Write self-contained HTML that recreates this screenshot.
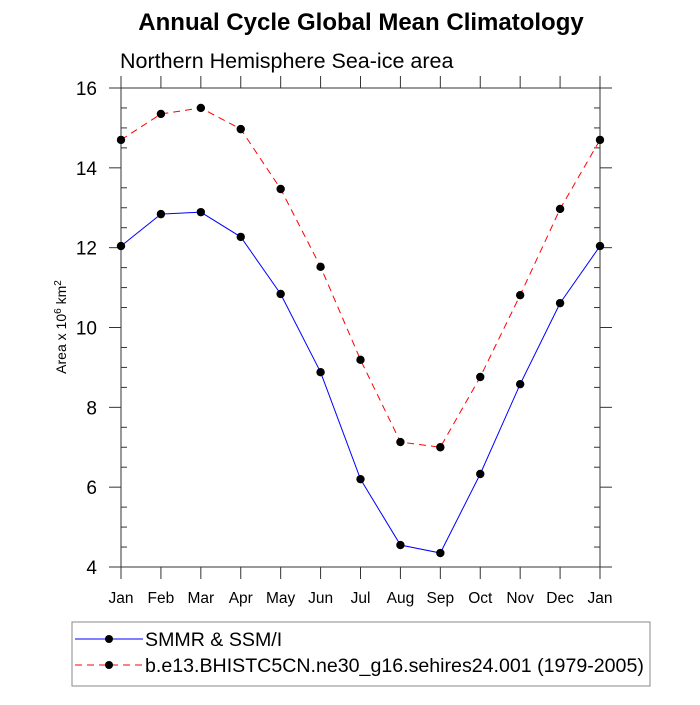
<!DOCTYPE html>
<html><head><meta charset="utf-8"><style>
body{margin:0;background:#fff;}
svg text{font-family:"Liberation Sans",sans-serif;}
</style></head><body>
<svg id="c" width="700" height="700" viewBox="0 0 700 700">
<text x="361" y="30" text-anchor="middle" font-size="24" font-weight="bold">Annual Cycle Global Mean Climatology</text>
<text x="120" y="68" font-size="21.5">Northern Hemisphere Sea-ice area</text>
<text transform="translate(66,327) rotate(-90)" text-anchor="middle" font-size="14">Area x 10<tspan dy="-5" font-size="10">6</tspan><tspan dy="5"> km</tspan><tspan dy="-5" font-size="10">2</tspan></text>
<g id="axes"></g>
<g id="marks"></g>
<rect x="72" y="622" width="578" height="64" fill="none" stroke="#888" stroke-width="1"/>
<line x1="75" y1="639" x2="143" y2="639" stroke="#0000ff" stroke-width="1"/>
<circle cx="109" cy="639" r="4" fill="#000"/>
<text x="145" y="646" font-size="19.6">SMMR &amp; SSM/I</text>
<line x1="75" y1="665" x2="143" y2="665" stroke="#ff0000" stroke-width="1" stroke-dasharray="7,5"/>
<circle cx="109" cy="665" r="4" fill="#000"/>
<text x="145" y="672" font-size="19.6">b.e13.BHISTC5CN.ne30_g16.sehires24.001 (1979-2005)</text>
</svg>
<script>
const months=["Jan","Feb","Mar","Apr","May","Jun","Jul","Aug","Sep","Oct","Nov","Dec","Jan"];
const obsValues=[12.04,12.84,12.89,12.27,10.84,8.88,6.2,4.55,4.35,6.33,8.58,10.61,12.04];
const modelValues=[14.70,15.35,15.5,14.97,13.47,11.52,9.19,7.13,7.0,8.76,10.81,12.97,14.7];
const yTicks=[4,6,8,10,12,14,16];
const L=121,R=600,T=88,B=567,ymin=4,ymax=16;
const NS="http://www.w3.org/2000/svg";
function xs(i){return L+(R-L)*i/(months.length-1);}
function ys(v){return B-(B-T)*(v-ymin)/(ymax-ymin);}
function mk(t,a,p){const e=document.createElementNS(NS,t);for(const k in a)e.setAttribute(k,a[k]);(p||document.getElementById('axes')).appendChild(e);return e;}
let f=mk('rect',{x:L,y:T,width:R-L,height:B-T,fill:'none',stroke:'#333','stroke-width':1});


months.forEach((m,i)=>{const x=xs(i);
 mk('line',{x1:x,y1:B,x2:x,y2:B+12,stroke:'#333'});
 mk('line',{x1:x,y1:T,x2:x,y2:T-12,stroke:'#333'});
 const t=mk('text',{x:x,y:B+36,'text-anchor':'middle','font-size':15.5});t.textContent=m;
 
 
});
for(let v=ymin;v<=ymax+0.01;v+=0.5){const y=ys(v);
 if(Math.abs(v-Math.round(v/2)*2)<0.01) continue;
 mk('line',{x1:L,y1:y,x2:L+6,y2:y,stroke:'#333'});
 mk('line',{x1:R,y1:y,x2:R-6,y2:y,stroke:'#333'});
}
yTicks.forEach(v=>{const y=ys(v);
 mk('line',{x1:L-12,y1:y,x2:L,y2:y,stroke:'#333'});
 mk('line',{x1:R,y1:y,x2:R+12,y2:y,stroke:'#333'});
 const t=mk('text',{x:L-24,y:y+7,'text-anchor':'end','font-size':19});t.textContent=v;
 
 
});
const mg=document.getElementById('marks');
function series(vals,color,dash,name){
 const p=mk('polyline',{points:vals.map((v,i)=>xs(i)+','+ys(v)).join(' '),fill:'none',stroke:color,'stroke-width':1,'stroke-dasharray':dash},mg);
 
 
 vals.forEach((v,i)=>{const c=mk('circle',{cx:xs(i),cy:ys(v),r:4.2,fill:'#000'},mg);
  
  });
}
series(modelValues,'#ff0000','7,5','model');
series(obsValues,'#0000ff','none','obs');
</script>
</body></html>
